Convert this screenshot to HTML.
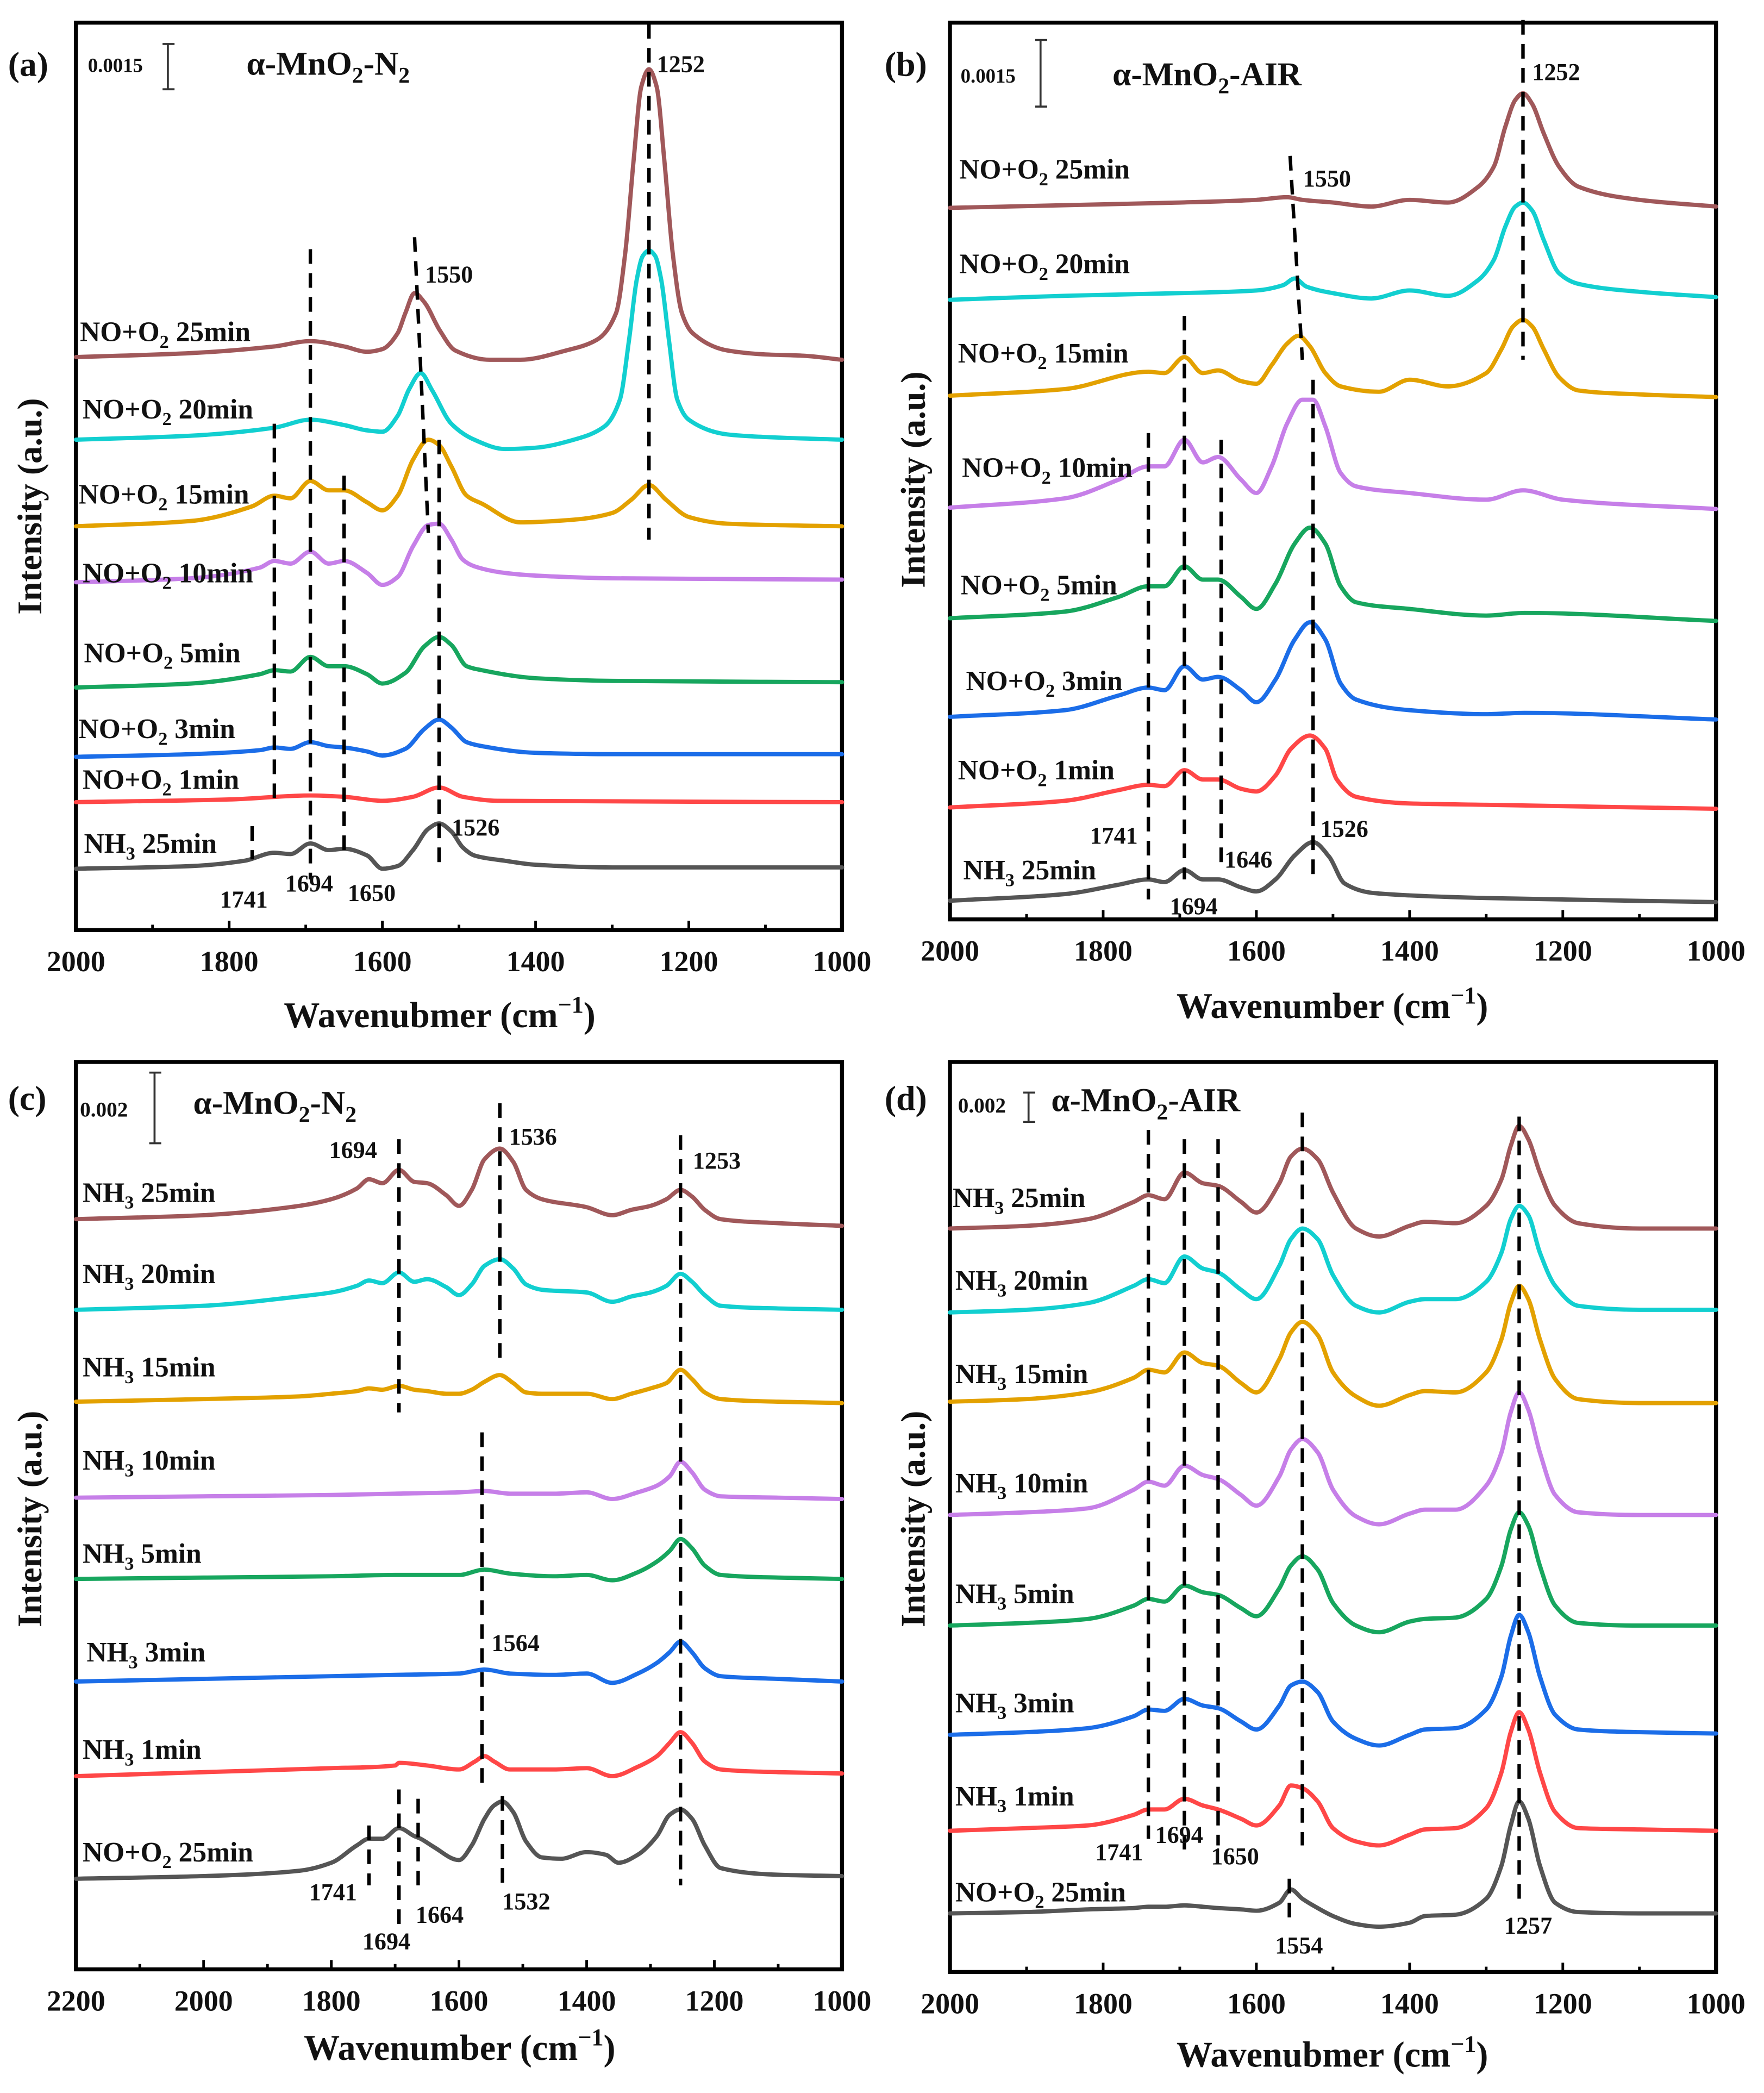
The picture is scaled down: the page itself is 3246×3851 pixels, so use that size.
<!DOCTYPE html>
<html><head><meta charset="utf-8">
<style>
html,body{margin:0;padding:0;background:#fff;}
svg{display:block;font-family:"Liberation Serif","DejaVu Serif",serif;}
text{font-family:"Liberation Serif","DejaVu Serif",serif;font-weight:bold;fill:#111;}
</style></head>
<body>
<svg id="fig" width="3246" height="3851" viewBox="0 0 1324 1570.8" preserveAspectRatio="none" font-family="Liberation Serif, serif">
<rect x="0" y="0" width="1324" height="1571" fill="#fff"/>
<g id="layer"></g>
<g id="static">
<text x="6" y="57" font-size="26">(a)</text>
<text x="66" y="54" font-size="15">0.0015</text>
<path d="M126 33 V67 M122 33 H131 M122 67 H131" stroke="#333" stroke-width="1.5" fill="none"/>
<text x="185" y="56" font-size="25">α-MnO<tspan font-size="17" dy="6">2</tspan><tspan dy="-6">-N</tspan><tspan font-size="17" dy="6">2</tspan></text>
<text x="-380" y="31" font-size="26" transform="rotate(-90)" text-anchor="middle">Intensity (a.u.)</text>
<text x="330" y="771" font-size="27" text-anchor="middle">Wavenubmer (cm<tspan font-size="18" dy="-11">−1</tspan><tspan dy="11">)</tspan></text>
<text x="664" y="57" font-size="26">(b)</text>
<text x="721" y="62" font-size="15">0.0015</text>
<path d="M781 30 V80 M777 30 H786 M777 80 H786" stroke="#333" stroke-width="1.5" fill="none"/>
<text x="835" y="64" font-size="25">α-MnO<tspan font-size="17" dy="6">2</tspan><tspan dy="-6">-AIR</tspan></text>
<text x="-360" y="694" font-size="26" transform="rotate(-90)" text-anchor="middle">Intensity (a.u.)</text>
<text x="1000" y="764" font-size="27" text-anchor="middle">Wavenumber (cm<tspan font-size="18" dy="-11">−1</tspan><tspan dy="11">)</tspan></text>
<text x="6" y="833" font-size="26">(c)</text>
<text x="60" y="838" font-size="16">0.002</text>
<path d="M116 805 V858 M112 805 H121 M112 858 H121" stroke="#333" stroke-width="1.5" fill="none"/>
<text x="145" y="836" font-size="25">α-MnO<tspan font-size="17" dy="6">2</tspan><tspan dy="-6">-N</tspan><tspan font-size="17" dy="6">2</tspan></text>
<text x="-1140" y="31" font-size="26" transform="rotate(-90)" text-anchor="middle">Intensity (a.u.)</text>
<text x="345" y="1546" font-size="27" text-anchor="middle">Wavenumber (cm<tspan font-size="18" dy="-11">−1</tspan><tspan dy="11">)</tspan></text>
<text x="664" y="833" font-size="26">(d)</text>
<text x="719" y="835" font-size="16">0.002</text>
<path d="M772 820 V842 M768 820 H777 M768 842 H777" stroke="#333" stroke-width="1.5" fill="none"/>
<text x="789" y="834" font-size="25">α-MnO<tspan font-size="17" dy="6">2</tspan><tspan dy="-6">-AIR</tspan></text>
<text x="-1140" y="694" font-size="26" transform="rotate(-90)" text-anchor="middle">Intensity (a.u.)</text>
<text x="1000" y="1551" font-size="27" text-anchor="middle">Wavenubmer (cm<tspan font-size="18" dy="-11">−1</tspan><tspan dy="11">)</tspan></text>
</g>
</svg>
<script>
// ---------- Panel (a) data ----------
const a_wn_gray=[2000,1850,1780,1741,1720,1694,1670,1650,1620,1600,1580,1560,1540,1526,1510,1495,1480,1440,1400,1300,1000];
const a_v_gray=[48,50,54,60,59,67,62,63,58,48,50,62,78,82,76,64,58,54,51,49,49];
const a_wn_red=[2000,1800,1694,1650,1600,1560,1526,1495,1450,1000];
const a_v_red=[98,100,103,102,99,102,109,102,99,98];
const a_wn_blue=[2000,1850,1760,1741,1720,1694,1670,1650,1620,1600,1570,1545,1526,1510,1490,1470,1400,1300,1000];
const a_v_blue=[132,134,137,139,138,143,140,139,136,133,138,153,160,154,143,140,135,134,134];
const a_v_green=[184,187,194,197,196,207,200,200,194,187,195,215,222,216,200,197,191,189,188];
const a_wn_violet=[2000,1850,1760,1741,1720,1694,1670,1650,1620,1600,1580,1560,1540,1526,1510,1495,1480,1440,1400,1300,1000];
const a_v_violet=[263,266,274,279,277,286,277,279,270,261,267,290,306,307,295,280,275,270,268,266,265];
const a_wn_orange=[2000,1850,1770,1741,1720,1694,1670,1650,1620,1600,1580,1560,1540,1526,1510,1490,1470,1420,1350,1300,1275,1252,1230,1200,1150,1000];
const a_v_orange=[305,309,320,328,326,339,332,332,323,317,328,355,370,366,350,328,322,308,310,315,325,336,325,312,307,305];
const a_wn_cyan=[2000,1850,1741,1694,1650,1620,1600,1580,1565,1550,1535,1510,1480,1440,1400,1350,1310,1290,1278,1268,1260,1252,1244,1236,1226,1215,1200,1150,1100,1000];
const a_v_cyan=[370,373,379,385,381,377,376,388,408,420,407,382,370,363,364,370,380,400,445,490,508,512,508,490,445,400,385,374,372,370];
const a_wn_brown=[2000,1850,1741,1694,1650,1620,1600,1580,1570,1558,1545,1525,1505,1460,1420,1360,1320,1295,1283,1272,1262,1252,1242,1232,1221,1209,1195,1150,1100,1050,1000];
const a_v_brown=[432,435,440,444,440,436,438,450,465,480,473,452,437,430,430,437,445,465,510,580,635,648,635,580,510,465,450,437,434,433,430];
// ---------- Panel (b) data ----------
const b_wn_gray=[2000,1850,1780,1741,1720,1694,1670,1650,1620,1600,1575,1550,1526,1505,1485,1450,1400,1300,1000];
const b_v_gray=[24,29,36,40,38,47,40,40,34,31,40,58,68,57,37,30,28,26,23];
const b_wn_red=[2000,1850,1780,1741,1720,1694,1670,1650,1620,1600,1575,1555,1530,1510,1495,1470,1400,1300,1000];
const b_v_red=[94,99,107,111,110,122,115,115,108,106,118,138,148,138,115,102,97,96,93];
const b_wn_blue=[2000,1850,1780,1741,1720,1694,1670,1650,1620,1600,1575,1550,1530,1510,1490,1470,1400,1300,1250,1000];
const b_v_blue=[162,167,178,184,182,200,190,192,182,173,190,220,233,220,187,175,167,164,165,160];
const b_v_green=[236,241,252,260,260,275,265,265,252,243,262,292,304,292,260,248,243,238,240,234];
const b_wn_violet=[2000,1850,1780,1741,1720,1694,1670,1650,1620,1600,1580,1560,1540,1526,1510,1490,1470,1400,1300,1252,1200,1000];
const b_v_violet=[319,326,340,350,350,370,353,357,340,330,350,382,400,400,380,345,335,330,325,332,325,318];
const b_wn_orange=[2000,1850,1741,1720,1694,1670,1650,1620,1600,1580,1560,1545,1530,1510,1490,1440,1400,1350,1300,1280,1265,1252,1240,1225,1205,1180,1100,1000];
const b_v_orange=[403,408,421,420,432,420,422,414,412,426,442,448,440,420,410,406,415,410,420,438,455,460,455,438,417,407,404,402];
const b_wn_cyan=[2000,1850,1700,1600,1565,1550,1535,1500,1450,1400,1350,1310,1290,1275,1262,1252,1240,1225,1205,1180,1100,1000];
const b_v_cyan=[475,478,480,482,486,491,485,480,476,482,478,490,505,530,545,548,542,520,495,487,481,477];
const b_wn_brown=[2000,1850,1700,1600,1560,1540,1500,1450,1400,1350,1310,1290,1275,1262,1252,1240,1225,1205,1180,1100,1000];
const b_v_brown=[544,546,548,550,552,550,548,545,550,548,560,575,605,625,630,622,600,575,560,550,545];
// ---------- Panel (c) data ----------
const c_wn_top=[2200,2000,1850,1800,1760,1741,1720,1694,1670,1650,1620,1600,1580,1560,1536,1515,1495,1470,1400,1360,1330,1300,1275,1253,1235,1215,1190,1100,1000];
const c_v_brown=[565,568,575,580,588,595,592,602,593,592,583,575,587,610,618,608,587,580,574,568,572,575,580,587,582,572,565,562,560];
const c_v_cyan=[497,500,507,510,515,519,517,525,518,520,514,508,516,530,535,528,516,512,510,503,507,510,515,524,518,508,500,498,497];
const c_v_orange=[428,430,432,434,436,438,437,440,437,436,434,434,437,443,448,442,435,434,434,430,434,438,442,452,445,435,430,428,427];
const c_wn_mid=[2200,2000,1800,1700,1600,1560,1520,1450,1400,1360,1320,1290,1270,1253,1235,1215,1190,1100,1000];
const c_v_violet=[356,357,358,359,360,361,359,359,360,355,360,365,372,383,375,362,357,356,355];
const c_v_green=[295,296,297,298,298,302,299,297,298,294,300,308,316,325,318,305,298,296,295];
const c_v_blue=[218,220,222,223,224,227,224,223,224,217,224,232,240,248,240,228,222,220,218];
const c_wn_red=[2200,2000,1800,1700,1694,1650,1600,1575,1560,1545,1520,1450,1400,1360,1320,1290,1270,1253,1235,1215,1190,1100,1000];
const c_v_red=[147,150,153,155,157,155,152,158,162,158,152,152,153,147,154,162,172,180,172,158,152,150,149];
const c_wn_gray=[2200,2000,1850,1800,1760,1741,1720,1694,1670,1660,1640,1600,1580,1560,1545,1532,1515,1495,1470,1440,1400,1370,1350,1320,1290,1270,1253,1235,1215,1190,1100,1000];
const c_v_gray=[70,72,76,82,95,100,100,108,102,100,94,84,95,115,125,128,120,98,86,85,90,88,82,88,102,118,122,115,95,78,73,72];
// ---------- Panel (d) data ----------
const d_wn=[2000,1900,1820,1760,1741,1720,1694,1670,1650,1620,1600,1570,1555,1540,1520,1500,1470,1440,1400,1380,1340,1300,1280,1268,1257,1245,1230,1210,1180,1100,1000];
const d_v_brown=[558,560,565,578,583,580,600,592,590,578,570,592,612,618,610,585,558,552,560,563,562,575,595,620,635,625,600,575,562,558,558];
const d_v_cyan=[495,497,502,515,520,517,537,528,525,512,505,530,550,558,550,523,500,495,503,505,505,518,540,565,575,568,540,515,500,497,497];
const d_v_orange=[428,430,435,446,452,450,465,457,455,442,435,460,480,488,478,450,432,425,433,436,435,450,475,502,515,505,475,445,430,427,427];
const d_v_violet=[343,345,348,362,368,365,380,373,370,358,350,372,392,400,390,362,342,336,344,347,347,365,390,420,435,422,390,358,345,343,343];
const d_v_green=[260,262,265,275,280,278,290,285,283,273,267,288,305,312,302,277,260,255,263,265,266,280,305,332,345,335,305,275,262,260,260];
const d_v_blue=[178,180,183,192,197,196,205,200,198,188,182,200,215,218,210,188,175,170,178,182,183,197,222,252,268,255,222,193,182,180,179];
const d_v_red=[106,108,110,118,122,122,130,125,122,115,110,125,140,138,128,108,98,95,103,107,108,123,150,180,195,182,150,120,108,107,106];
const d_v_gray=[44,45,47,48,49,49,50,49,48,47,46,52,62,55,48,42,36,34,37,42,43,55,80,110,128,115,80,52,45,44,44];
// ---------- Tick labels ----------
const ticks_ab=[2000,1800,1600,1400,1200,1000];
const ticks_c=[2200,2000,1800,1600,1400,1200,1000];
const minor_ab=[1900,1700,1500,1300,1100];
const minor_c=[2100,1900,1700,1500,1300,1100];

const COL={brown:'#a0585a',cyan:'#12cfd0',orange:'#e3a100',violet:'#c67fe8',green:'#17a65e',blue:'#1b6de8',red:'#ff4747',gray:'#555555'};
const NS='http://www.w3.org/2000/svg';
const layer=document.getElementById('layer');

function mk(tag,attrs,parent){const e=document.createElementNS(NS,tag);for(const k in attrs)e.setAttribute(k,attrs[k]);(parent||layer).appendChild(e);return e;}

function makePanel(id,x0,x1,y0,y1,wMax,wMin,ref,ticks,minor){
  const P={id,x0,x1,y0,y1,ref,
    xs:w=>x0+(wMax-w)/(wMax-wMin)*(x1-x0),
    ys:v=>ref-v};
  const g=mk('g',{});
  
  
  const fr=mk('rect',{x:x0,y:y0,width:x1-x0,height:y1-y0,fill:'none',stroke:'#000','stroke-width':3},g);
  
  
  ticks.forEach(t=>{
    const x=P.xs(t);
    const tk=mk('line',{x1:x,x2:x,y1:y1,y2:y1-7,stroke:'#000','stroke-width':2},g);
    
    
    const tl=mk('text',{x:x,y:y1+31,'font-size':22,'text-anchor':'middle'},g);
    tl.textContent=t;
    
    
  });
  minor.forEach(t=>{
    const x=P.xs(t);
    const tk=mk('line',{x1:x,x2:x,y1:y1,y2:y1-4,stroke:'#000','stroke-width':2},g);
    
    
  });
  return P;
}

// monotone cubic in x (like d3 curveMonotoneX)
function smoothPath(pts){
  const n=pts.length;
  const dx=[],m=[];
  for(let i=0;i<n-1;i++){dx.push(pts[i+1][0]-pts[i][0]);m.push((pts[i+1][1]-pts[i][1])/dx[i]);}
  const t=new Array(n);
  t[0]=m[0];t[n-1]=m[n-2];
  for(let i=1;i<n-1;i++){
    if(m[i-1]*m[i]<=0)t[i]=0;
    else{const w1=2*dx[i]+dx[i-1],w2=dx[i]+2*dx[i-1];t[i]=(w1+w2)/(w1/m[i-1]+w2/m[i]);}
  }
  let d='M'+pts[0][0].toFixed(2)+' '+pts[0][1].toFixed(2);
  for(let i=0;i<n-1;i++){
    const h=dx[i]/3;
    d+=' C'+(pts[i][0]+h).toFixed(2)+' '+(pts[i][1]+t[i]*h).toFixed(2)+' '+(pts[i+1][0]-h).toFixed(2)+' '+(pts[i+1][1]-t[i+1]*h).toFixed(2)+' '+pts[i+1][0].toFixed(2)+' '+pts[i+1][1].toFixed(2);
  }
  return d;
}
function curve(P,wn,vals,color,name){
  const pts=wn.map((w,i)=>[P.xs(w),P.ys(vals[i])]);
  const p=mk('path',{d:smoothPath(pts),fill:'none',stroke:COL[color],'stroke-width':3.2,'stroke-linejoin':'round','stroke-linecap':'round'});
  
  
}
function dash(P,w1,v1,w2,v2,name){
  const l=mk('line',{x1:P.xs(w1),y1:P.ys(v1),x2:P.xs(w2),y2:P.ys(v2),stroke:'#000','stroke-width':2.6,'stroke-dasharray':'11 7'});
  
  
}
function lab(x,y,txt,size,name){
  const t=mk('text',{x:x,y:y,'font-size':size});
  t.textContent=txt;
  
  
}
function slabel(x,y,kind,time,name){
  const t=mk('text',{x:x,y:y,'font-size':21});
  
  
  if(kind==='NH3'){t.innerHTML='NH<tspan font-size="14" dy="5">3</tspan><tspan dy="-5"> '+time+'</tspan>';}
  else{t.innerHTML='NO+O<tspan font-size="14" dy="5">2</tspan><tspan dy="-5"> '+time+'</tspan>';}
}

// ---------- Panel A ----------
const A=makePanel('a',57,632,17,698,2000,1000,700,ticks_ab,minor_ab);
curve(A,a_wn_gray,a_v_gray,'gray','a-nh3-25min-curve');
curve(A,a_wn_red,a_v_red,'red','a-no-o2-1min-curve');
curve(A,a_wn_blue,a_v_blue,'blue','a-no-o2-3min-curve');
curve(A,a_wn_blue,a_v_green,'green','a-no-o2-5min-curve');
curve(A,a_wn_violet,a_v_violet,'violet','a-no-o2-10min-curve');
curve(A,a_wn_orange,a_v_orange,'orange','a-no-o2-15min-curve');
curve(A,a_wn_cyan,a_v_cyan,'cyan','a-no-o2-20min-curve');
curve(A,a_wn_brown,a_v_brown,'brown','a-no-o2-25min-curve');
dash(A,1252,682,1252,295,'a-guide-1252');
dash(A,1558,522,1540,300,'a-guide-1550');
dash(A,1526,370,1526,50,'a-guide-1526');
dash(A,1741,382,1741,100,'a-guide-1741');
dash(A,1694,513,1694,40,'a-guide-1694');
dash(A,1650,343,1650,60,'a-guide-1650');
dash(A,1770,80,1770,55,'a-guide-1770');
lab(493,54,'1252',18,'a-peak-1252');
lab(319,212,'1550',18,'a-peak-1550');
lab(339,627,'1526',18,'a-peak-1526');
lab(165,681,'1741',18,'a-peak-1741');
lab(214,669,'1694',18,'a-peak-1694');
lab(261,676,'1650',18,'a-peak-1650');
slabel(60,256,'NO','25min','a-label-25min');
slabel(62,314,'NO','20min','a-label-20min');
slabel(59,378,'NO','15min','a-label-15min');
slabel(62,437,'NO','10min','a-label-10min');
slabel(63,497,'NO','5min','a-label-5min');
slabel(59,554,'NO','3min','a-label-3min');
slabel(62,592,'NO','1min','a-label-1min');
slabel(63,640,'NH3','25min','a-label-nh3-25min');

// ---------- Panel B ----------
const B=makePanel('b',713,1288,17,690,2000,1000,700,ticks_ab,minor_ab);
curve(B,b_wn_gray,b_v_gray,'gray','b-nh3-25min-curve');
curve(B,b_wn_red,b_v_red,'red','b-no-o2-1min-curve');
curve(B,b_wn_blue,b_v_blue,'blue','b-no-o2-3min-curve');
curve(B,b_wn_blue,b_v_green,'green','b-no-o2-5min-curve');
curve(B,b_wn_violet,b_v_violet,'violet','b-no-o2-10min-curve');
curve(B,b_wn_orange,b_v_orange,'orange','b-no-o2-15min-curve');
curve(B,b_wn_cyan,b_v_cyan,'cyan','b-no-o2-20min-curve');
curve(B,b_wn_brown,b_v_brown,'brown','b-no-o2-25min-curve');
dash(B,1252,685,1252,430,'b-guide-1252');
dash(B,1556,583,1540,430,'b-guide-1550');
dash(B,1526,415,1526,40,'b-guide-1526');
dash(B,1741,375,1741,25,'b-guide-1741');
dash(B,1694,463,1694,40,'b-guide-1694');
dash(B,1646,370,1646,50,'b-guide-1646');
lab(1150,60,'1252',18,'b-peak-1252');
lab(978,140,'1550',18,'b-peak-1550');
lab(818,633,'1741',18,'b-peak-1741');
lab(878,686,'1694',18,'b-peak-1694');
lab(919,651,'1646',18,'b-peak-1646');
lab(991,628,'1526',18,'b-peak-1526');
slabel(720,134,'NO','25min','b-label-25min');
slabel(720,205,'NO','20min','b-label-20min');
slabel(719,272,'NO','15min','b-label-15min');
slabel(722,358,'NO','10min','b-label-10min');
slabel(721,446,'NO','5min','b-label-5min');
slabel(725,518,'NO','3min','b-label-3min');
slabel(719,585,'NO','1min','b-label-1min');
slabel(723,660,'NH3','25min','b-label-nh3-25min');

// ---------- Panel C ----------
const C=makePanel('c',57,632,797,1478,2200,1000,1480,ticks_c,minor_c);
curve(C,c_wn_gray,c_v_gray,'gray','c-no-o2-25min-curve');
curve(C,c_wn_red,c_v_red,'red','c-nh3-1min-curve');
curve(C,c_wn_mid,c_v_blue,'blue','c-nh3-3min-curve');
curve(C,c_wn_mid,c_v_green,'green','c-nh3-5min-curve');
curve(C,c_wn_mid,c_v_violet,'violet','c-nh3-10min-curve');
curve(C,c_wn_top,c_v_orange,'orange','c-nh3-15min-curve');
curve(C,c_wn_top,c_v_cyan,'cyan','c-nh3-20min-curve');
curve(C,c_wn_top,c_v_brown,'brown','c-nh3-25min-curve');
dash(C,1694,625,1694,420,'c-guide-1694');
dash(C,1536,652,1536,460,'c-guide-1536');
dash(C,1253,628,1253,65,'c-guide-1253');
dash(C,1564,405,1564,140,'c-guide-1564');
dash(C,1741,110,1741,65,'c-guide-1741-b');
dash(C,1694,137,1694,35,'c-guide-1694-b');
dash(C,1664,130,1664,65,'c-guide-1664');
dash(C,1532,132,1532,60,'c-guide-1532');
lab(247,869,'1694',18,'c-peak-1694');
lab(382,859,'1536',18,'c-peak-1536');
lab(520,877,'1253',18,'c-peak-1253');
lab(369,1239,'1564',18,'c-peak-1564');
lab(232,1426,'1741',18,'c-peak-1741');
lab(272,1463,'1694',18,'c-peak-1694-b');
lab(312,1443,'1664',18,'c-peak-1664');
lab(377,1433,'1532',18,'c-peak-1532');
slabel(62,902,'NH3','25min','c-label-25min');
slabel(62,963,'NH3','20min','c-label-20min');
slabel(62,1033,'NH3','15min','c-label-15min');
slabel(62,1103,'NH3','10min','c-label-10min');
slabel(62,1173,'NH3','5min','c-label-5min');
slabel(65,1247,'NH3','3min','c-label-3min');
slabel(62,1320,'NH3','1min','c-label-1min');
slabel(62,1397,'NO','25min','c-label-no-o2-25min');

// ---------- Panel D ----------
const D=makePanel('d',713,1288,797,1480,2000,1000,1480,ticks_ab,minor_ab);
curve(D,d_wn,d_v_gray,'gray','d-no-o2-25min-curve');
curve(D,d_wn,d_v_red,'red','d-nh3-1min-curve');
curve(D,d_wn,d_v_blue,'blue','d-nh3-3min-curve');
curve(D,d_wn,d_v_green,'green','d-nh3-5min-curve');
curve(D,d_wn,d_v_violet,'violet','d-nh3-10min-curve');
curve(D,d_wn,d_v_orange,'orange','d-nh3-15min-curve');
curve(D,d_wn,d_v_cyan,'cyan','d-nh3-20min-curve');
curve(D,d_wn,d_v_brown,'brown','d-nh3-25min-curve');
dash(D,1741,632,1741,100,'d-guide-1741');
dash(D,1694,625,1694,90,'d-guide-1694');
dash(D,1650,625,1650,95,'d-guide-1650');
dash(D,1540,645,1540,95,'d-guide-1540');
dash(D,1257,642,1257,55,'d-guide-1257');
dash(D,1557,70,1557,35,'d-guide-1554');
lab(822,1396,'1741',18,'d-peak-1741');
lab(867,1383,'1694',18,'d-peak-1694');
lab(909,1399,'1650',18,'d-peak-1650');
lab(957,1466,'1554',18,'d-peak-1554');
lab(1129,1451,'1257',18,'d-peak-1257');
slabel(715,906,'NH3','25min','d-label-25min');
slabel(717,968,'NH3','20min','d-label-20min');
slabel(717,1038,'NH3','15min','d-label-15min');
slabel(717,1120,'NH3','10min','d-label-10min');
slabel(717,1203,'NH3','5min','d-label-5min');
slabel(717,1285,'NH3','3min','d-label-3min');
slabel(717,1355,'NH3','1min','d-label-1min');
slabel(717,1427,'NO','25min','d-label-no-o2-25min');
</script>
</body></html>
